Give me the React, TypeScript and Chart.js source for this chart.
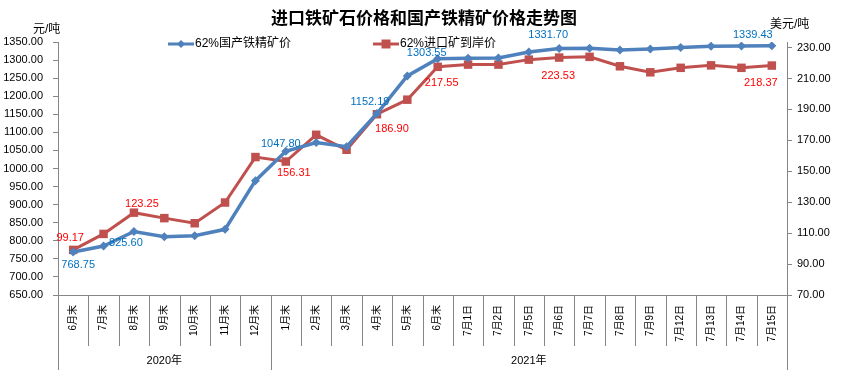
import React, { useEffect, useRef } from 'react';
import { Chart, registerables } from 'chart.js';

Chart.register(...registerables);

const chartTitle = '进口铁矿石价格和国产铁精矿价格走势图';
const leftUnit = '元/吨';
const rightUnit = '美元/吨';

const categories = [
  '6月末', '7月末', '8月末', '9月末', '10月末', '11月末', '12月末',
  '1月末', '2月末', '3月末', '4月末', '5月末', '6月末',
  '7月1日', '7月2日', '7月5日', '7月6日', '7月7日', '7月8日', '7月9日',
  '7月12日', '7月13日', '7月14日', '7月15日',
];

const yearLabels = ['2020年', '2021年'];
const yearSizes = [7, 17];

const domesticName = '62%国产铁精矿价';
const domesticPrice = [
  768.75, 785.5, 825.6, 811.3, 814.0, 831.7, 966.3,
  1047.8, 1072.0, 1060.4, 1152.19, 1256.0, 1303.55,
  1305.0, 1306.0, 1322.5, 1331.7, 1332.5, 1328.0, 1330.6,
  1335.0, 1338.5, 1339.0, 1339.43,
];

const importName = '62%进口矿到岸价';
const importPrice = [
  99.17, 109.5, 123.25, 119.7, 116.4, 129.8, 159.2,
  156.31, 173.6, 163.9, 186.9, 196.3, 217.55,
  219.0, 219.0, 222.2, 223.53, 224.0, 217.9, 214.0,
  216.9, 218.5, 216.9, 218.37,
];

const leftTicks = [650, 700, 750, 800, 850, 900, 950, 1000, 1050, 1100, 1150, 1200, 1250, 1300, 1350];
const rightTicks = [70, 90, 110, 130, 150, 170, 190, 210, 230];

const domesticLabelIndex = [0, 2, 7, 10, 12, 16, 23];
const importLabelIndex = [0, 2, 7, 10, 12, 16, 23];

// label placement offsets (style only)
const domesticLabelShift = [[5, 13], [-8, 11], [-5, -7], [-7, -12], [-11, -6], [-11, -14], [-19, -11]];
const importLabelShift = [[-3, -12], [8, -9], [8, 11], [15, 15], [4, 16], [-1, 18], [-11, 17]];

const BLUE = '#4F81BD';
const RED = '#C0504D';
const BLUE_TEXT = '#0070C0';
const RED_TEXT = '#FF0000';
const AXIS = '#868686';
const FONT = '"Liberation Sans", Arial, "Noto Sans CJK SC", sans-serif';
const CJK = '"Noto Sans CJK SC", "Liberation Sans", sans-serif';

const decorPlugin = {
  id: 'decor',
  afterDraw(chart: any) {
    const ctx = chart.ctx as CanvasRenderingContext2D;
    const area = chart.chartArea;
    const xs = chart.scales.x;
    ctx.save();

    // title
    ctx.fillStyle = '#000';
    ctx.font = `bold 17px ${CJK}`;
    ctx.textAlign = 'center';
    ctx.textBaseline = 'middle';
    ctx.fillText(chartTitle, 424, 18);

    // units
    ctx.font = `12px ${FONT}`;
    ctx.textAlign = 'left';
    ctx.fillText(leftUnit, 33, 30);
    ctx.fillText(rightUnit, 770, 25);

    // legend
    const drawLegend = (x0: number, color: string, style: string, text: string) => {
      const y = 44;
      ctx.strokeStyle = color;
      ctx.lineWidth = 3;
      ctx.beginPath();
      ctx.moveTo(x0, y);
      ctx.lineTo(x0 + 26, y);
      ctx.stroke();
      ctx.fillStyle = color;
      const cx = x0 + 13;
      ctx.beginPath();
      if (style === 'diamond') {
        ctx.moveTo(cx - 4, y);
        ctx.lineTo(cx, y - 4);
        ctx.lineTo(cx + 4, y);
        ctx.lineTo(cx, y + 4);
        ctx.closePath();
      } else {
        ctx.rect(cx - 4.5, y - 4.5, 9, 9);
      }
      ctx.fill();
      ctx.fillStyle = '#000';
      ctx.font = `12px ${FONT}`;
      ctx.textAlign = 'left';
      ctx.textBaseline = 'middle';
      ctx.fillText(text, x0 + 27, y);
    };
    drawLegend(168, BLUE, 'diamond', domesticName);
    drawLegend(373, RED, 'square', importName);

    // category separators and year groups
    const n = categories.length;
    const step = (area.right - area.left) / n;
    const edge = (i: number) => area.left + i * step;
    ctx.strokeStyle = AXIS;
    ctx.lineWidth = 1;
    const groupEdges = [0];
    yearSizes.forEach((s) => groupEdges.push(groupEdges[groupEdges.length - 1] + s));
    for (let i = 0; i <= n; i++) {
      const x = Math.round(edge(i)) + 0.5;
      const long = groupEdges.includes(i);
      ctx.beginPath();
      ctx.moveTo(x, area.bottom);
      ctx.lineTo(x, long ? chart.height : area.bottom + 51);
      ctx.stroke();
    }
    ctx.fillStyle = '#000';
    ctx.font = `11px ${FONT}`;
    ctx.textAlign = 'center';
    ctx.textBaseline = 'middle';
    yearLabels.forEach((lab, k) => {
      const cx = (edge(groupEdges[k]) + edge(groupEdges[k + 1])) / 2;
      ctx.fillText(lab, cx, area.bottom + 66);
    });

    // data labels
    ctx.font = `11px ${FONT}`;
    const drawLabels = (dsIndex: number, idxs: number[], shifts: number[][], values: number[], color: string) => {
      const meta = chart.getDatasetMeta(dsIndex);
      ctx.fillStyle = color;
      idxs.forEach((idx, k) => {
        const pt = meta.data[idx];
        ctx.fillText(values[idx].toFixed(2), pt.x + shifts[k][0], pt.y + shifts[k][1]);
      });
    };
    drawLabels(0, domesticLabelIndex, domesticLabelShift, domesticPrice, BLUE_TEXT);
    drawLabels(1, importLabelIndex, importLabelShift, importPrice, RED_TEXT);

    void xs;
    ctx.restore();
  },
};

export default function App() {
  const canvasRef = useRef<HTMLCanvasElement | null>(null);

  useEffect(() => {
    document.body.style.margin = '0';
    const canvas = canvasRef.current;
    if (!canvas) return;
    const chart = new Chart(canvas, {
      type: 'line',
      data: {
        labels: categories,
        datasets: [
          {
            label: domesticName,
            data: domesticPrice,
            yAxisID: 'y',
            borderColor: BLUE,
            backgroundColor: BLUE,
            borderWidth: 3.5,
            pointStyle: 'rectRot',
            pointRadius: 4.5,
            pointBorderWidth: 0,
            tension: 0,
          },
          {
            label: importName,
            data: importPrice,
            yAxisID: 'y1',
            borderColor: RED,
            backgroundColor: RED,
            borderWidth: 3,
            pointStyle: 'rect',
            pointRadius: 6,
            pointBorderWidth: 0,
            tension: 0,
          },
        ],
      },
      options: {
        responsive: false,
        animation: false,
        events: [],
        layout: { padding: { top: 42, left: 0, right: 0, bottom: 0 } },
        plugins: {
          legend: { display: false },
          title: { display: false },
          tooltip: { enabled: false },
        },
        scales: {
          x: {
            type: 'category',
            offset: true,
            grid: { display: false, drawOnChartArea: false, drawTicks: false },
            border: { display: true, color: AXIS, width: 1 },
            ticks: {
              autoSkip: false,
              minRotation: 90,
              maxRotation: 90,
              padding: 10,
              color: '#000',
              font: { size: 10, family: FONT },
            },
            afterFit: (s: any) => { s.height = 75; },
          },
          y: {
            type: 'linear',
            position: 'left',
            min: 650,
            max: 1350,
            grid: { display: true, drawOnChartArea: false, drawTicks: true, tickLength: 5, color: AXIS },
            border: { display: true, color: AXIS, width: 1 },
            ticks: {
              padding: 10,
              color: '#000',
              font: { size: 11, family: FONT },
              callback: (v: any) => Number(v).toFixed(2),
            },
            afterBuildTicks: (s: any) => { s.ticks = leftTicks.map((v) => ({ value: v })); },
            afterFit: (s: any) => { s.width = 58; },
          },
          y1: {
            type: 'linear',
            position: 'right',
            min: 70,
            max: 233.6,
            grid: { display: true, drawOnChartArea: false, drawTicks: true, tickLength: 5, color: AXIS },
            border: { display: true, color: AXIS, width: 1 },
            ticks: {
              padding: 5,
              color: '#000',
              font: { size: 11, family: FONT },
              callback: (v: any) => Number(v).toFixed(2),
            },
            afterBuildTicks: (s: any) => { s.ticks = rightTicks.map((v) => ({ value: v })); },
            afterFit: (s: any) => { s.width = 56; },
          },
        },
      },
      plugins: [decorPlugin],
    });
    return () => chart.destroy();
  }, []);

  return (
    <div style={{ width: 843, height: 370, background: '#fff' }}>
      <canvas ref={canvasRef} width={843} height={370} style={{ display: 'block', width: 843, height: 370 }} />
    </div>
  );
}
